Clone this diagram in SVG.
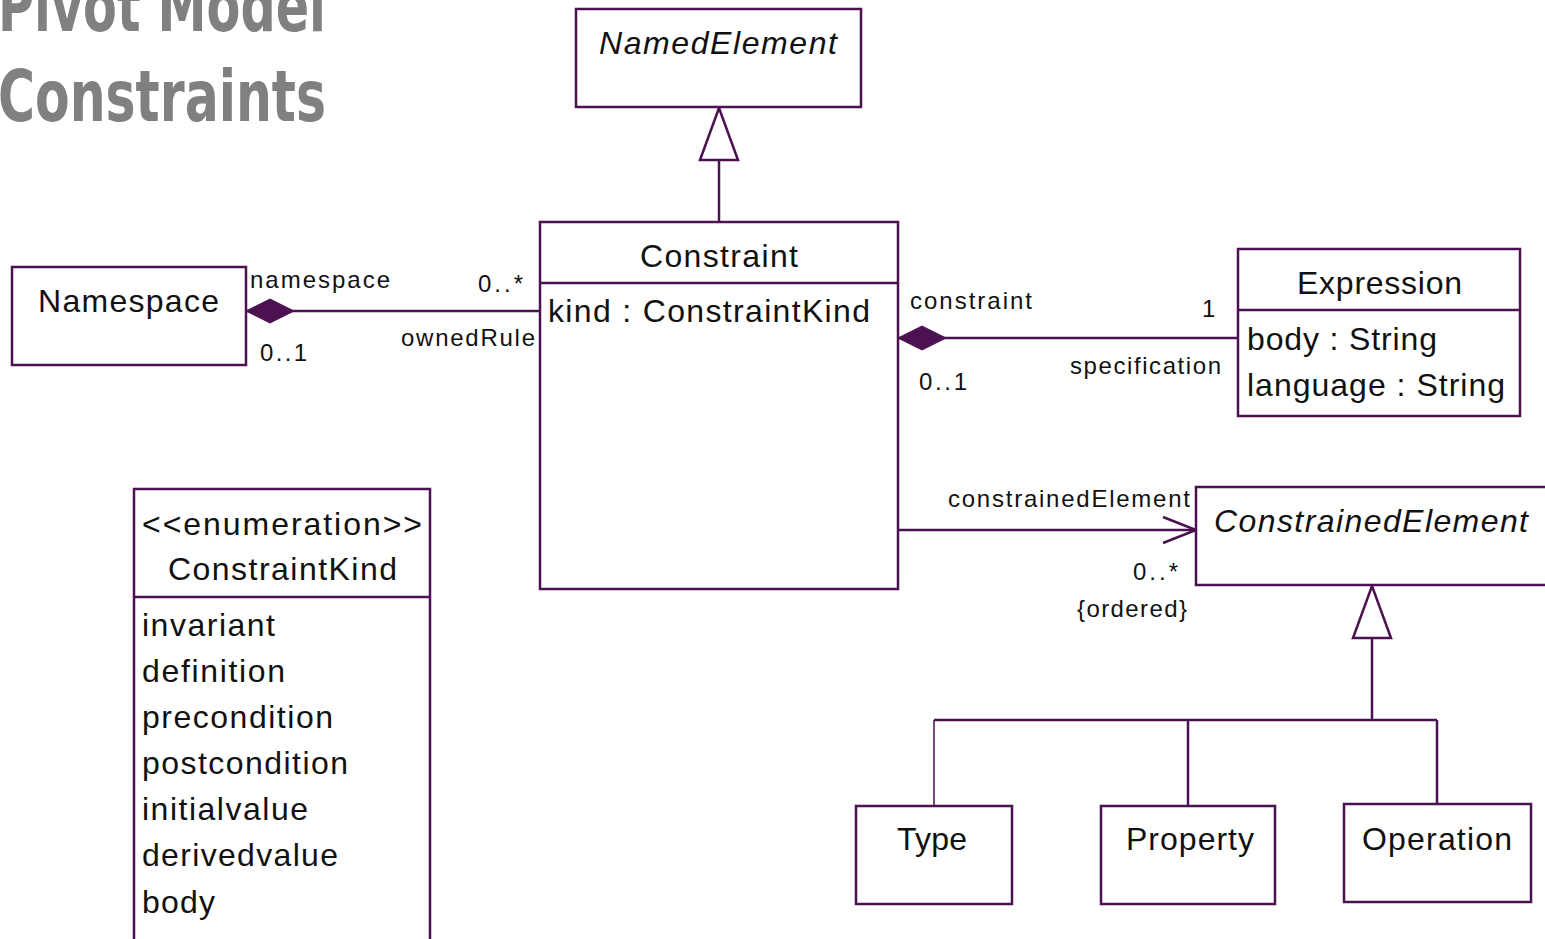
<svg xmlns="http://www.w3.org/2000/svg" width="1545" height="939" viewBox="0 0 1545 939">
<style>
.box{fill:#fff;stroke:#4b1150;stroke-width:2.5}
.ln{fill:none;stroke:#4b1150;stroke-width:2.5}
.dia{fill:#4b1150;stroke:#4b1150;stroke-width:1}
.tri{fill:#fff;stroke:#4b1150;stroke-width:2.5}
.t{font-family:"Liberation Sans","DejaVu Sans",sans-serif;font-size:32px;fill:#111}
.i{font-style:italic}
.s{font-family:"Liberation Sans","DejaVu Sans",sans-serif;font-size:24px;fill:#111}
.title{font-family:"Liberation Sans Narrow","DejaVu Sans Condensed","Liberation Sans",sans-serif;font-size:71px;font-weight:bold;fill:#808080}
</style>
<rect width="1545" height="939" fill="#fff"/>
<g id="title">
<text class="title" x="-2" y="31" textLength="328" lengthAdjust="spacingAndGlyphs">Pivot Model</text>
<text class="title" x="-2" y="121" textLength="328" lengthAdjust="spacingAndGlyphs">Constraints</text>
</g>
<g id="connectors">
<line class="ln" x1="719" y1="160" x2="719" y2="222"/>
<polygon class="tri" points="719,108 700,160 738,160"/>
<line class="ln" x1="246" y1="311" x2="540" y2="311"/>
<polygon class="dia" points="246,311 270,299 294,311 270,323"/>
<line class="ln" x1="898" y1="338" x2="1238" y2="338"/>
<polygon class="dia" points="898,338 922,326 946,338 922,350"/>
<line class="ln" x1="898" y1="530" x2="1196" y2="530"/>
<polyline class="ln" points="1163,517 1196,530 1163,543"/>
<line class="ln" x1="1372" y1="638" x2="1372" y2="720"/>
<polygon class="tri" points="1372,586 1353,638 1391,638"/>
<line class="ln" x1="934" y1="720" x2="1437" y2="720"/>
<line class="ln" x1="934" y1="720" x2="934" y2="806" style="stroke-width:1.5"/>
<line class="ln" x1="1188" y1="720" x2="1188" y2="806"/>
<line class="ln" x1="1437" y1="720" x2="1437" y2="804"/>
<text class="s" x="250" y="288" textLength="140" lengthAdjust="spacing">namespace</text>
<text class="s" x="478" y="292" textLength="45" lengthAdjust="spacing">0..*</text>
<text class="s" x="260" y="361" textLength="47" lengthAdjust="spacing">0..1</text>
<text class="s" x="401" y="346" textLength="134" lengthAdjust="spacing">ownedRule</text>
<text class="s" x="910" y="309" textLength="122" lengthAdjust="spacing">constraint</text>
<text class="s" x="1202" y="317">1</text>
<text class="s" x="919" y="390" textLength="48" lengthAdjust="spacing">0..1</text>
<text class="s" x="1070" y="374" textLength="151" lengthAdjust="spacing">specification</text>
<text class="s" x="948" y="507" textLength="242" lengthAdjust="spacing">constrainedElement</text>
<text class="s" x="1133" y="580" textLength="45" lengthAdjust="spacing">0..*</text>
<text class="s" x="1077" y="617" textLength="110" lengthAdjust="spacing">{ordered}</text>
</g>
<g id="NamedElement">
<rect class="box" x="576" y="9" width="285" height="98"/>
<text class="t i" x="599" y="54" textLength="238" lengthAdjust="spacing">NamedElement</text>
</g>
<g id="Constraint">
<rect class="box" x="540" y="222" width="358" height="367"/>
<line class="ln" x1="540" y1="283" x2="898" y2="283"/>
<text class="t" x="640" y="267" textLength="158" lengthAdjust="spacing">Constraint</text>
<text class="t" x="548" y="322" textLength="322" lengthAdjust="spacing">kind : ConstraintKind</text>
</g>
<g id="Namespace">
<rect class="box" x="12" y="267" width="234" height="98"/>
<text class="t" x="38" y="312" textLength="181" lengthAdjust="spacing">Namespace</text>
</g>
<g id="Expression">
<rect class="box" x="1238" y="249" width="282" height="167"/>
<line class="ln" x1="1238" y1="310" x2="1520" y2="310"/>
<text class="t" x="1297" y="294" textLength="165" lengthAdjust="spacing">Expression</text>
<text class="t" x="1247" y="350" textLength="190" lengthAdjust="spacing">body : String</text>
<text class="t" x="1247" y="396" textLength="258" lengthAdjust="spacing">language : String</text>
</g>
<g id="ConstrainedElement">
<rect class="box" x="1196" y="487" width="360" height="98"/>
<text class="t i" x="1214" y="532" textLength="314" lengthAdjust="spacing">ConstrainedElement</text>
</g>
<g id="Type">
<rect class="box" x="856" y="806" width="156" height="98"/>
<text class="t" x="897" y="850" textLength="70" lengthAdjust="spacing">Type</text>
</g>
<g id="Property">
<rect class="box" x="1101" y="806" width="174" height="98"/>
<text class="t" x="1126" y="850" textLength="128" lengthAdjust="spacing">Property</text>
</g>
<g id="Operation">
<rect class="box" x="1344" y="804" width="187" height="98"/>
<text class="t" x="1362" y="850" textLength="150" lengthAdjust="spacing">Operation</text>
</g>
<g id="ConstraintKind">
<rect class="box" x="134" y="489" width="296" height="470"/>
<line class="ln" x1="134" y1="597" x2="430" y2="597"/>
<text class="t" x="142" y="535" textLength="280" lengthAdjust="spacing">&lt;&lt;enumeration&gt;&gt;</text>
<text class="t" x="168" y="580" textLength="229" lengthAdjust="spacing">ConstraintKind</text>
<text class="t" x="142" y="636" textLength="133" lengthAdjust="spacing">invariant</text>
<text class="t" x="142" y="682" textLength="143" lengthAdjust="spacing">definition</text>
<text class="t" x="142" y="728" textLength="191" lengthAdjust="spacing">precondition</text>
<text class="t" x="142" y="774" textLength="206" lengthAdjust="spacing">postcondition</text>
<text class="t" x="142" y="820" textLength="166" lengthAdjust="spacing">initialvalue</text>
<text class="t" x="142" y="866" textLength="196" lengthAdjust="spacing">derivedvalue</text>
<text class="t" x="142" y="913" textLength="73" lengthAdjust="spacing">body</text>
</g>
</svg>
